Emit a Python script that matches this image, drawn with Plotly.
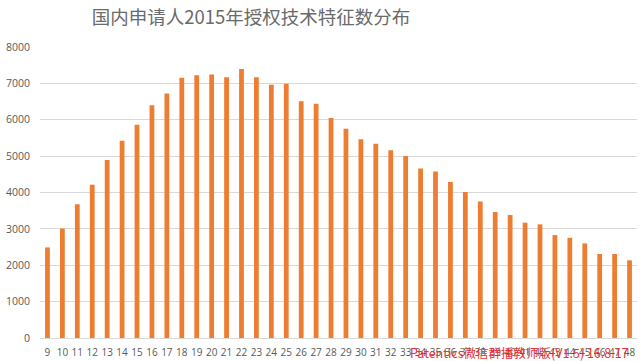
import plotly.graph_objects as go

categories = [str(i) for i in range(9, 49)]
values = [2490, 3010, 3675, 4215, 4895, 5420, 5860, 6400, 6720, 7155,
          7220, 7245, 7165, 7395, 7165, 6960, 6990, 6510, 6440, 6045,
          5750, 5465, 5340, 5160, 5005, 4660, 4575, 4290, 4015, 3750,
          3465, 3380, 3170, 3125, 2830, 2755, 2600, 2310, 2310, 2135]
y_ticks = [0, 1000, 2000, 3000, 4000, 5000, 6000, 7000, 8000]

title_text = "国内申请人2015年授权技术特征数分布"
watermark = "Patentics微信群播教师版(V1.5) 16.8.17"

W, H = 640, 361
L, R, T, B = 39.5, 2.5, 47.3, 23.3

fig = go.Figure()
fig.add_trace(go.Bar(x=categories, y=values, marker=dict(color="#ED7D31", line=dict(width=0)),
                     width=0.32))

fig.update_layout(
    width=W, height=H,
    margin=dict(l=L, r=R, t=T, b=B, autoexpand=False),
    paper_bgcolor="white", plot_bgcolor="white",
    showlegend=False,
    title=dict(text=title_text, x=251 / W, xref="container", xanchor="center",
               y=1 - 18 / H, yref="container", yanchor="middle",
               font=dict(family="Noto Sans CJK SC", size=18.5, color="#6a6a6a")),
    font=dict(family="Open Sans", color="#595959"),
)
fig.update_xaxes(type="category", showgrid=False, showline=True, linecolor="#d9d9d9",
                 linewidth=1, ticks="", tickfont=dict(size=10, color="#595959"),
                 tickangle=0, ticklabelstandoff=5)
fig.update_yaxes(range=[0, 8000], tickvals=y_ticks, showgrid=True, gridcolor="#d9d9d9",
                 gridwidth=1, zeroline=False, showline=False, ticks="",
                 tickfont=dict(size=10.5, color="#595959"), ticklabelstandoff=9)

fig.add_annotation(text=watermark, xref="paper", yref="paper",
                   x=(408 - L) / (W - L - R), y=(337.7 - 352) / (H - T - B),
                   xanchor="left", yanchor="middle", showarrow=False,
                   font=dict(family="Noto Sans CJK SC", size=12.5, color="#e8323a"))

fig.write_html("out.html", config={"displayModeBar": False},
               post_script="document.body.style.margin='0';document.body.style.overflow='hidden';")
